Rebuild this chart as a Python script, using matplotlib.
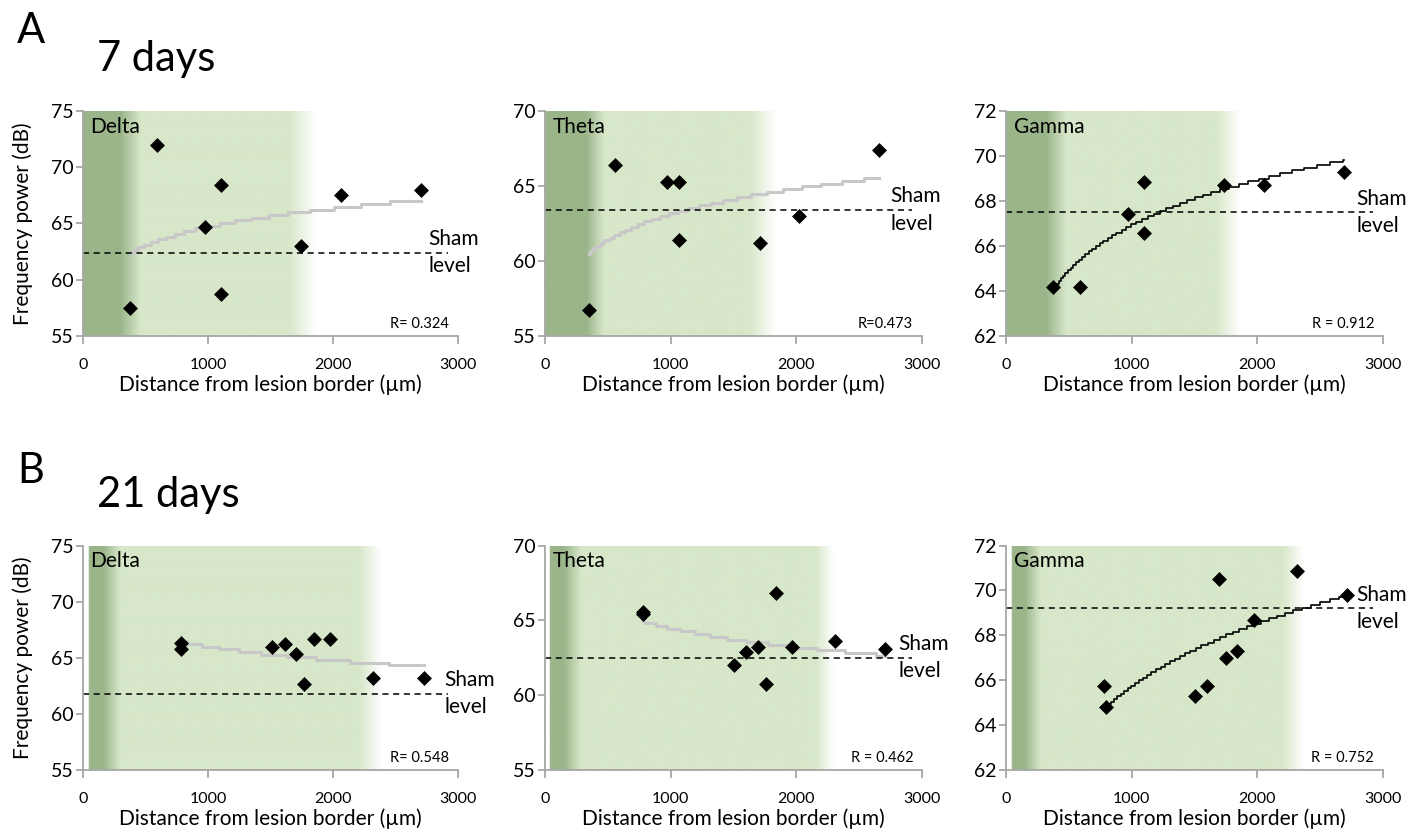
import numpy as np
import matplotlib
matplotlib.use("Agg")
import matplotlib.pyplot as plt
from matplotlib.colors import to_rgb
import matplotlib.transforms as mtransforms

plt.rcParams['font.family'] = ['Lato', 'DejaVu Sans']

# ---------------- data ----------------
A_delta_x = [376, 589, 976, 1101, 1101, 1744, 2061, 2701]
A_delta_y = [57.5, 72.0, 64.7, 68.4, 58.7, 63.0, 67.5, 68.0]
A_theta_x = [349, 561, 967, 1070, 1070, 1708, 2020, 2658]
A_theta_y = [56.7, 66.4, 65.3, 65.3, 61.4, 61.2, 63.0, 67.4]
A_gamma_x = [377, 590, 970, 1097, 1097, 1735, 2050, 2691]
A_gamma_y = [64.2, 64.2, 67.4, 68.85, 66.6, 68.7, 68.7, 69.3]

B_delta_x = [782, 782, 1511, 1615, 1700, 1765, 1851, 1979, 2320, 2725]
B_delta_y = [66.3, 65.75, 66.0, 66.2, 65.3, 62.7, 66.7, 66.7, 63.2, 63.2]
B_theta_x = [777, 777, 1500, 1603, 1693, 1755, 1840, 1965, 2310, 2708]
B_theta_y = [65.55, 65.4, 62.0, 62.9, 63.2, 60.75, 66.8, 63.2, 63.65, 63.1]
B_gamma_x = [776, 797, 1500, 1601, 1691, 1752, 1840, 1970, 2313, 2714]
B_gamma_y = [65.75, 64.8, 65.3, 65.75, 70.5, 67.0, 67.3, 68.7, 70.85, 69.8]

sham_A = [62.4, 63.4, 67.5]
sham_B = [61.8, 62.5, 69.2]
r_text_A = ["R= 0.324", "R=0.473", "R = 0.912"]
r_text_B = ["R= 0.548", "R = 0.462", "R = 0.752"]
bands = ["Delta", "Theta", "Gamma"]
ylims = [(55, 75), (55, 70), (62, 72)]
yticks = [[55, 60, 65, 70, 75], [55, 60, 65, 70], [62, 64, 66, 68, 70, 72]]
xticks = [0, 1000, 2000, 3000]

# lesion-zone shading stops (distance, colour key)
zone_A = [[0, 300, 460, 1650, 1860, 3000],
          [0, 330, 470, 1630, 1840, 3000],
          [0, 320, 480, 1670, 1865, 3000]]
zone_A_c = ['d', 'd', 'l', 'l', 'w', 'w']
zone_B = [[0, 44, 46, 160, 300, 2210, 2390, 3000],
          [0, 36, 38, 150, 285, 2150, 2300, 3000],
          [0, 44, 46, 150, 275, 2200, 2370, 3000]]
zone_B_c = ['w', 'w', 'd', 'd', 'l', 'l', 'w', 'w']

# where the "Sham level" annotation starts (x, in µm)
sham_txt_x_A = [2760, 2750, 2790]
sham_txt_x_B = [2890, 2810, 2790]

COL = {'d': to_rgb('#9bb58a'), 'l': to_rgb('#d7e7c9'), 'w': (1, 1, 1)}

W, H = 1412, 834
fig = plt.figure(figsize=(W / 100, H / 100), dpi=100)

def px_rect(l, t, r, b):
    return [l / W, 1 - b / H, (r - l) / W, (b - t) / H]

lefts = [(83, 458), (545, 922), (1006, 1383)]
rowsA = (111, 336)
rowsB = (545.6, 770)

spine_c = '#a6a6a6'

def shade(ax, stops, keys, ylim):
    xs = np.linspace(0, 3000, 1200)
    cols = np.array([COL[k] for k in keys])
    img = np.stack([np.interp(xs, stops, cols[:, i]) for i in range(3)], axis=-1)
    ax.imshow(img[None, :, :], extent=[0, 3000, ylim[0], ylim[1]], aspect='auto',
              zorder=0, interpolation='bilinear')

def panel(ax, xs, ys, sham, sham_tx, rtxt, band, ylim, yt, stops, keys,
          trend_c, trend_lw, ylabel):
    shade(ax, stops, keys, ylim)
    ax.set_xlim(0, 3000)
    ax.set_ylim(*ylim)
    for s in ['top', 'right']:
        ax.spines[s].set_visible(False)
    for s in ['left', 'bottom']:
        ax.spines[s].set_color(spine_c)
        ax.spines[s].set_linewidth(1.3)
    ax.set_xticks(xticks)
    ax.set_yticks(yt)
    ax.tick_params(axis='x', colors=spine_c, labelcolor='black', labelsize=11.5,
                   length=6, width=1.3, pad=9.5)
    ax.tick_params(axis='y', colors=spine_c, labelcolor='black', labelsize=14,
                   length=5, width=1.3, pad=2)
    # log trend line (least-squares on ln x), drawn with the chart's pixel staircase
    x = np.array(xs, float)
    y = np.array(ys, float)
    a, b = np.polyfit(np.log(x), y, 1)
    xx = np.linspace(x.min(), x.max(), 400)
    yy = a * np.log(xx) + b
    q = 0.012 * (ylim[1] - ylim[0])
    yq = np.round(yy / q) * q
    ax.plot(xx, yq, color=trend_c, lw=trend_lw, zorder=2, drawstyle='steps-mid')
    ax.hlines(sham, 0, 2920, colors='black', linestyles=(0, (4, 3)), lw=1.1, zorder=2)
    ax.scatter(xs, ys, marker='D', s=58, color='black', zorder=3, linewidths=0)
    ax.text(sham_tx, sham, "Sham\nlevel", ha='left', va='center', fontsize=15,
            linespacing=1.45, clip_on=False, zorder=4)
    tr = mtransforms.blended_transform_factory(ax.transData, ax.transAxes)
    ax.text(2930, 0.055, rtxt, transform=tr, ha='right', va='center', fontsize=10.5)
    ax.text(0.02, 0.975, band, transform=ax.transAxes, ha='left', va='top', fontsize=15)
    ax.set_xlabel("Distance from lesion border (µm)", fontsize=15, labelpad=2)
    if ylabel:
        ax.set_ylabel("Frequency power (dB)", fontsize=15)
        ax.yaxis.set_label_coords(-0.133, 0.5)

A_data = [(A_delta_x, A_delta_y), (A_theta_x, A_theta_y), (A_gamma_x, A_gamma_y)]
B_data = [(B_delta_x, B_delta_y), (B_theta_x, B_theta_y), (B_gamma_x, B_gamma_y)]
trend_cols = ['#c8c8c8', '#c8c8c8', 'black']
trend_lws = [2.2, 2.2, 1.2]

for i in range(3):
    l, r = lefts[i]
    ax = fig.add_axes(px_rect(l, rowsA[0], r, rowsA[1]))
    panel(ax, A_data[i][0], A_data[i][1], sham_A[i], sham_txt_x_A[i], r_text_A[i],
          bands[i], ylims[i], yticks[i], zone_A[i], zone_A_c, trend_cols[i],
          trend_lws[i], i == 0)
    ax = fig.add_axes(px_rect(l, rowsB[0], r, rowsB[1]))
    panel(ax, B_data[i][0], B_data[i][1], sham_B[i], sham_txt_x_B[i], r_text_B[i],
          bands[i], ylims[i], yticks[i], zone_B[i], zone_B_c, trend_cols[i],
          trend_lws[i], i == 0)

fig.text(17 / W, 1 - 43 / H, "A", fontsize=30, ha='left', va='baseline')
fig.text(97 / W, 1 - 71 / H, "7 days", fontsize=30, ha='left', va='baseline')
fig.text(17 / W, 1 - 483 / H, "B", fontsize=30, ha='left', va='baseline')
fig.text(97 / W, 1 - 507 / H, "21 days", fontsize=30, ha='left', va='baseline')

fig.savefig("out.png", dpi=100)
